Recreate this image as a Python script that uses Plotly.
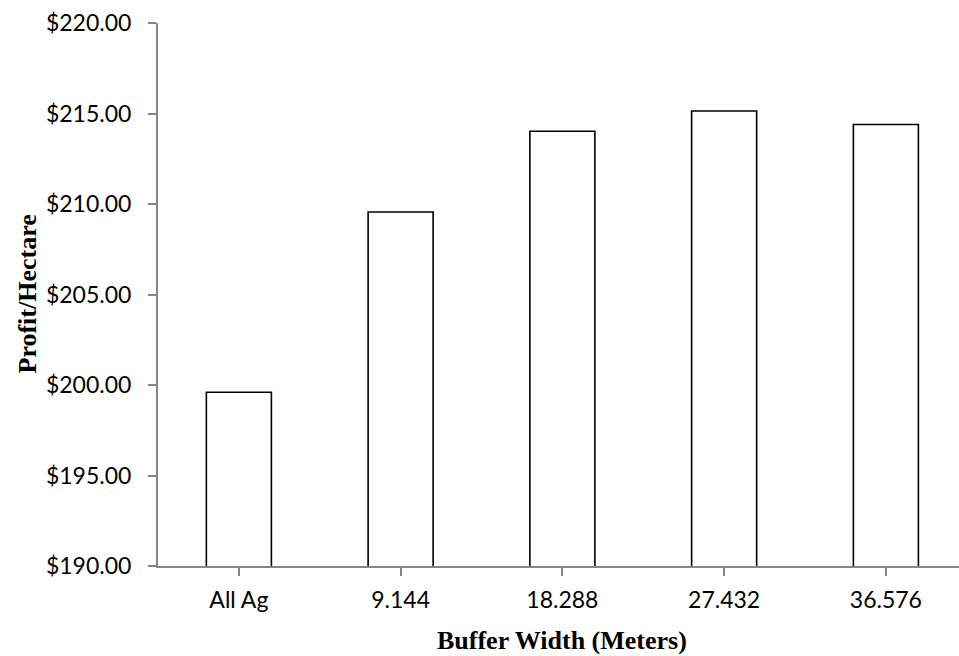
import plotly.graph_objects as go

categories = ["All Ag", "9.144", "18.288", "27.432", "36.576"]
profit = [199.60, 209.56, 214.02, 215.14, 214.39]
y_ticks = [190, 195, 200, 205, 210, 215, 220]
y_tick_labels = ["$190.00", "$195.00", "$200.00", "$205.00", "$210.00", "$215.00", "$220.00"]

fig = go.Figure()
fig.add_trace(go.Bar(
    x=list(range(len(categories))), y=profit,
    width=0.402,
    marker=dict(color="white", line=dict(color="black", width=1.6)),
))

axis_gray = "#868686"
fig.update_layout(
    width=959, height=656,
    margin=dict(l=158, r=0, t=23, b=90),
    plot_bgcolor="white", paper_bgcolor="white",
    showlegend=False,
    font=dict(family="Lato", size=23, color="black"),
    xaxis=dict(
        range=[-0.5, 4.452],
        tickmode="array",
        tickvals=list(range(len(categories))),
        ticktext=categories,
        tickson="boundaries",
        ticks="outside", ticklen=8, tickwidth=1.5, tickcolor=axis_gray,
        showline=True, linecolor=axis_gray, linewidth=2,
        showgrid=False, zeroline=False,
        ticklabelstandoff=4,
    ),
    yaxis=dict(
        range=[190, 220],
        tickmode="array",
        tickvals=y_ticks,
        ticktext=y_tick_labels,
        ticks="outside", ticklen=8, tickwidth=1.5, tickcolor=axis_gray,
        showline=True, linecolor=axis_gray, linewidth=2,
        showgrid=False, zeroline=False,
        ticklabelstandoff=12,
    ),
    annotations=[
        dict(text="<b>Buffer Width (Meters)</b>", x=2, xref="x", y=0, yref="paper",
             yshift=-74, yanchor="middle", xanchor="center", showarrow=False,
             font=dict(family="Liberation Serif", size=26, color="black")),
        dict(text="<b>Profit/Hectare</b>", x=0, xref="paper", xshift=-131, xanchor="center",
             y=0.5, yref="paper", yanchor="middle", textangle=-90, showarrow=False,
             font=dict(family="Liberation Serif", size=26, color="black")),
    ],
)

fig.write_html("out.html")
